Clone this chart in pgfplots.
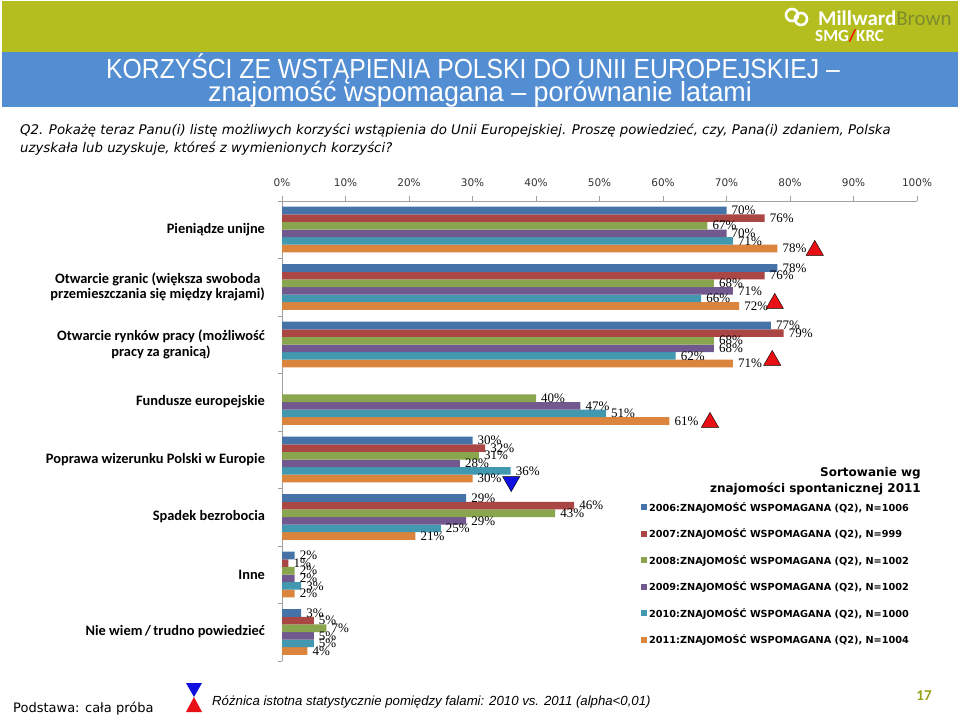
\documentclass[border=0pt]{standalone}
\usepackage{fontspec}
\setmainfont{Liberation Sans}
\newfontfamily\carlito{Carlito}
\newfontfamily\dvs{DejaVu Sans}
\newfontfamily\lserif{Liberation Serif}
\usepackage{pgfplots}
\pgfplotsset{compat=1.18}

\definecolor{c06}{RGB}{69,114,167}
\definecolor{c07}{RGB}{170,70,67}
\definecolor{c08}{RGB}{137,165,78}
\definecolor{c09}{RGB}{113,88,143}
\definecolor{c10}{RGB}{65,152,175}
\definecolor{c11}{RGB}{219,132,61}
\definecolor{hdrgreen}{RGB}{180,190,30}
\definecolor{hdrblue}{RGB}{84,142,210}
\definecolor{brownc}{RGB}{125,140,45}
\definecolor{mkred}{RGB}{232,16,20}
\definecolor{mkblue}{RGB}{16,16,225}
\definecolor{axgray}{RGB}{160,160,160}

\begin{document}
\begin{tikzpicture}
\begin{scope}[x=1pt,y=-1pt]
\useasboundingbox (0,0) rectangle (960,720);
\fill[white] (0,0) rectangle (960,720);
% header
\fill[hdrgreen] (2,1) rectangle (958,52);
\fill[hdrblue] (2,52) rectangle (958,107);
\node[anchor=base, text=white, font=\fontsize{24}{26}\selectfont, inner sep=0] at (473,78)
  {\scalebox{1.03}[1.15]{KORZYŚCI ZE WSTĄPIENIA POLSKI DO UNII EUROPEJSKIEJ –}};
\node[anchor=base, text=white, font=\fontsize{24}{26}\selectfont, inner sep=0] at (480,101)
  {\scalebox{1.12}[1.15]{znajomość wspomagana – porównanie latami}};
% logo
\draw[white, line width=2.6pt] (792,15) circle (6);
\draw[white, line width=2.6pt] (801,19) circle (6);
\node[anchor=base west, text=white, font=\carlito\bfseries\fontsize{21}{22}\selectfont, inner sep=0] at (818,25)
  {Millward{\mdseries\color{brownc}Brown}};
\node[anchor=base west, text=white, font=\carlito\bfseries\fontsize{17}{18}\selectfont, inner sep=0] at (815,41)
  {SMG{\color{red}/}KRC};
% question
\node[anchor=base west, font=\dvs\itshape\fontsize{13.3}{15}\selectfont, inner sep=0] at (20,134)
  {Q2. Pokażę teraz Panu(i) listę możliwych korzyści wstąpienia do Unii Europejskiej. Proszę powiedzieć, czy, Pana(i) zdaniem, Polska};
\node[anchor=base west, font=\dvs\itshape\fontsize{13.3}{15}\selectfont, inner sep=0] at (20,152)
  {uzyskała lub uzyskuje, któreś z wymienionych korzyści?};
% legend title
\node[anchor=north east, align=right, font=\dvs\bfseries\fontsize{12}{16}\selectfont, inner sep=0] at (921,467)
  {Sortowanie wg\\znajomości spontanicznej 2011};
% footer
\node[anchor=base west, font=\dvs\fontsize{13}{15}\selectfont, inner sep=0] at (13,712) {Podstawa: cała próba};
\fill[mkblue] (186,683) -- (202,683) -- (194,697) -- cycle;
\fill[mkred] (194,697) -- (186,712) -- (202,712) -- cycle;
\node[anchor=base west, font=\itshape\fontsize{13.2}{15}\selectfont, inner sep=0] at (212,705)
  {Różnica istotna statystycznie pomiędzy falami: 2010 vs. 2011 (alpha<0,01)};
\node[anchor=base, text=hdrgreen!85!black, font=\carlito\bfseries\fontsize{15}{16}\selectfont, inner sep=0] at (924,700) {17};
\end{scope}

\begin{axis}[
  at={(282pt,-660.75pt)}, anchor=south west,
  scale only axis, width=635pt, height=460pt,
  xmin=0, xmax=100, ymin=-0.5, ymax=7.5,
  xbar=0pt, bar width=7.6pt,
  /pgf/number format/assume math mode=true,
  axis x line*=top, axis y line*=left,
  axis line style={draw=axgray},
  tick align=outside, major tick length=4.5pt,
  tick style={draw=axgray},
  xtick={0,10,...,100},
  xticklabel={\pgfmathprintnumber{\tick}\%},
  xticklabel style={font=\dvs\fontsize{10.5}{12}\selectfont, text=black!80, yshift=6pt},
  ytick={-0.5,0.5,...,7.5},
  yticklabels={,,,,,,,,,},
  extra y ticks={0,1,2,3,4,5,6,7},
  extra y tick labels={Nie wiem\,/\,trudno powiedzieć, Inne, Spadek bezrobocia,
    Poprawa wizerunku Polski w Europie, Fundusze europejskie,
    {Otwarcie rynków pracy (możliwość\\pracy za granicą)},
    {Otwarcie granic (większa swoboda\\przemieszczania się między krajami)},
    Pieniądze unijne},
  extra y tick style={tick style={draw=none},
    tick label style={font=\carlito\bfseries\fontsize{14.4}{15.5}\selectfont, align=center, xshift=-9pt}},
  point meta=x,
  nodes near coords={\pgfmathprintnumber{\pgfplotspointmeta}\%},
  nodes near coords style={font=\lserif\fontsize{13}{13}\selectfont, anchor=west, inner sep=0pt, xshift=5pt, text=black},
  legend style={at={(rel axis cs:0.5654,0.3495)}, anchor=north west, draw=none, fill=none,
    font=\dvs\bfseries\fontsize{9.7}{11}\selectfont, row sep=12pt, inner sep=0pt,
    cells={anchor=west}},
  reverse legend,
  legend image code/.code={\fill[#1] (0pt,-3pt) rectangle (6pt,3pt);},
  clip=false,
]
\addplot[fill=c11, draw=none] coordinates {(78,7) (72,6) (71,5) (61,4) (30,3) (21,2) (2,1) (4,0)};
\addlegendentry{2011:ZNAJOMOŚĆ WSPOMAGANA (Q2), N=1004}
\addplot[fill=c10, draw=none] coordinates {(71,7) (66,6) (62,5) (51,4) (36,3) (25,2) (3,1) (5,0)};
\addlegendentry{2010:ZNAJOMOŚĆ WSPOMAGANA (Q2), N=1000}
\addplot[fill=c09, draw=none] coordinates {(70,7) (71,6) (68,5) (47,4) (28,3) (29,2) (2,1) (5,0)};
\addlegendentry{2009:ZNAJOMOŚĆ WSPOMAGANA (Q2), N=1002}
\addplot[fill=c08, draw=none] coordinates {(67,7) (68,6) (68,5) (40,4) (31,3) (43,2) (2,1) (7,0)};
\addlegendentry{2008:ZNAJOMOŚĆ WSPOMAGANA (Q2), N=1002}
\addplot[fill=c07, draw=none] coordinates {(76,7) (76,6) (79,5) (32,3) (46,2) (1,1) (5,0)};
\addlegendentry{2007:ZNAJOMOŚĆ WSPOMAGANA (Q2), N=999}
\addplot[fill=c06, draw=none] coordinates {(70,7) (78,6) (77,5) (30,3) (29,2) (2,1) (3,0)};
\addlegendentry{2006:ZNAJOMOŚĆ WSPOMAGANA (Q2), N=1006}
% significance markers
\addplot[forget plot, only marks, mark=triangle*, mark size=10pt, nodes near coords={},
  mark options={fill=mkred, draw=none}] coordinates {(83.9,6.637) (77.6,5.715) (77.2,4.723) (67.4,3.645)};
\addplot[forget plot, only marks, mark=triangle*, mark size=10pt, nodes near coords={},
  mark options={fill=mkblue, draw=none, rotate=180}] coordinates {(36.1,2.616)};
\end{axis}
\end{tikzpicture}
\end{document}
